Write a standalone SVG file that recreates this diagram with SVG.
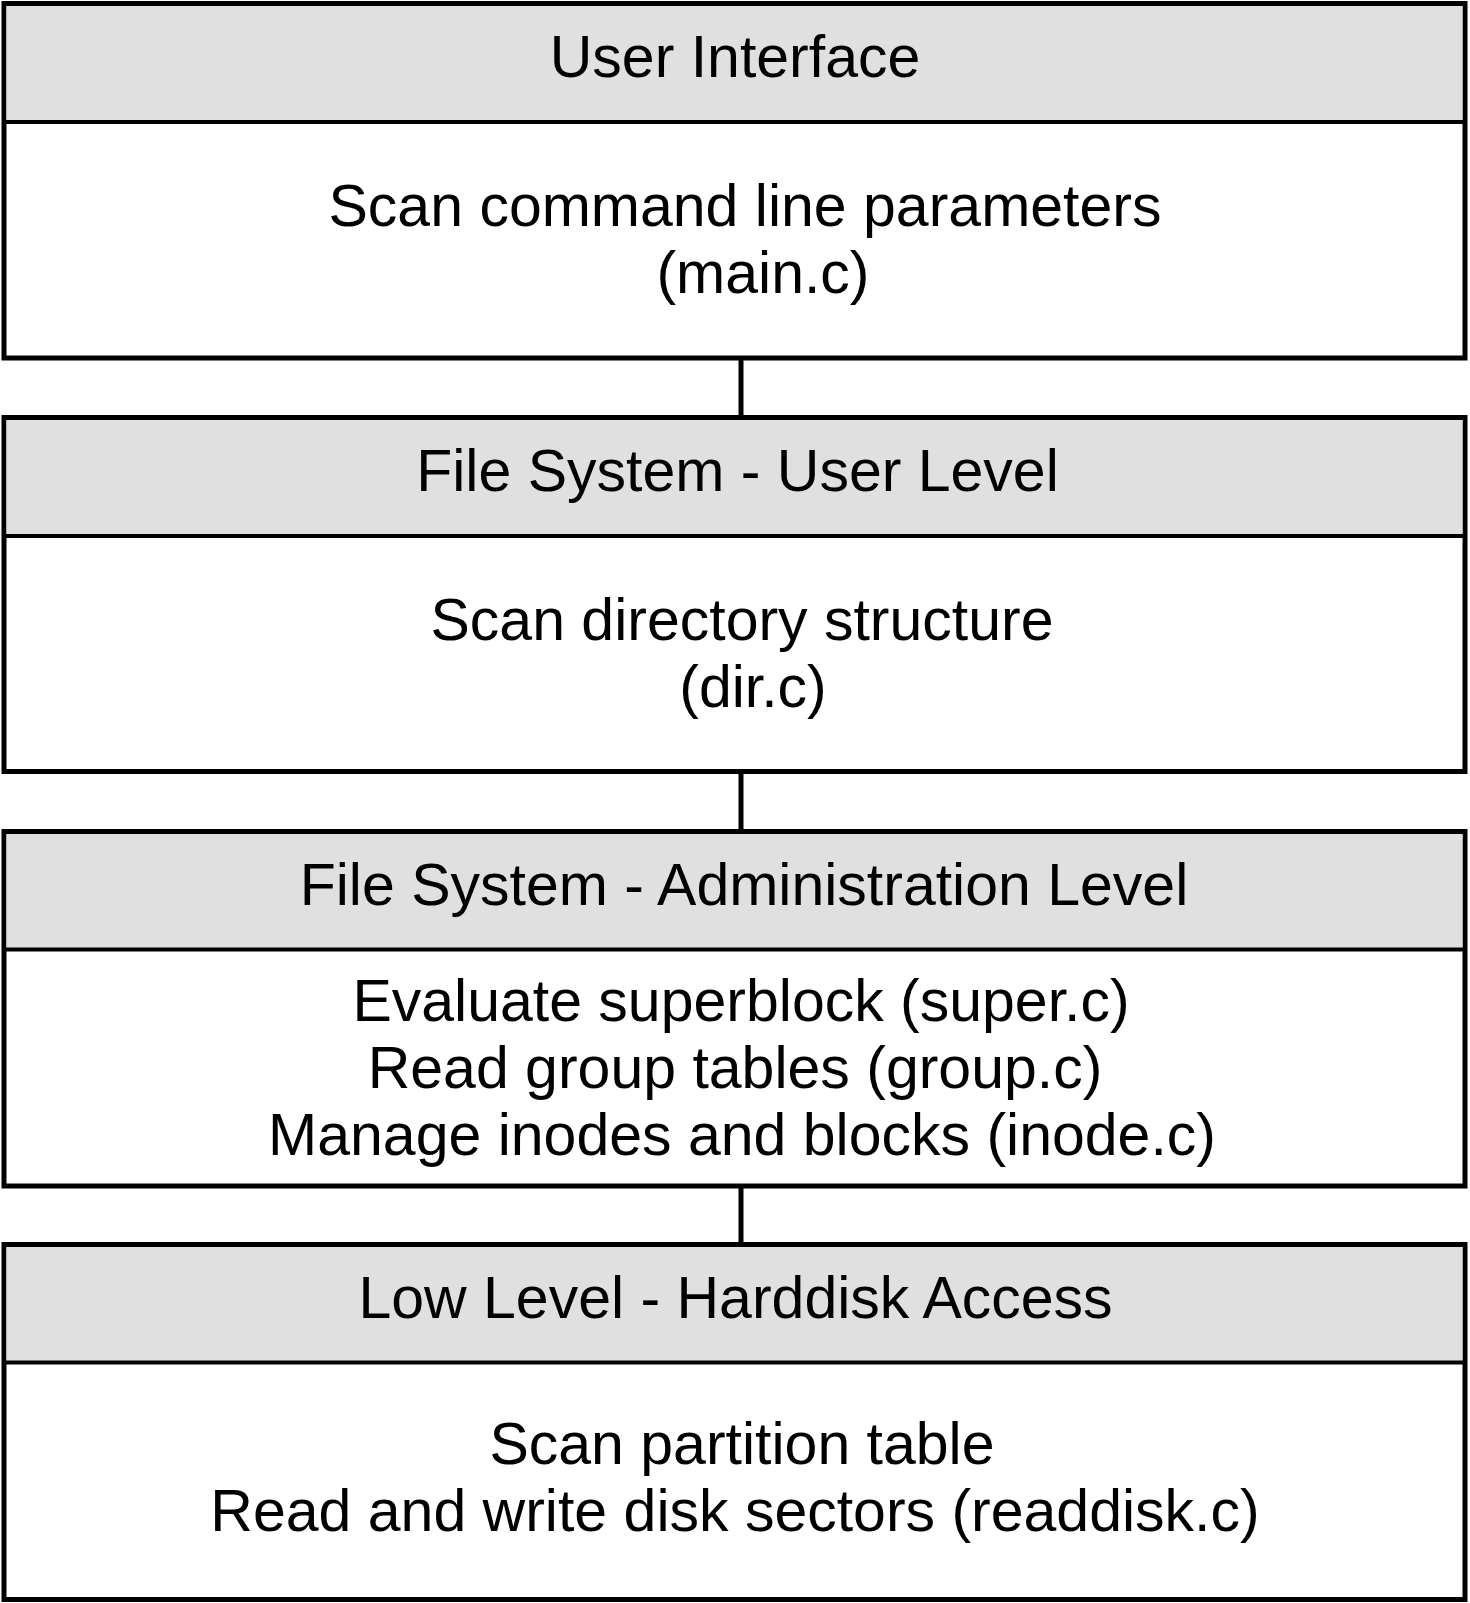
<svg xmlns="http://www.w3.org/2000/svg" width="1470" height="1603" viewBox="0 0 1470 1603">
<style>
.box{fill:#ffffff;stroke:#000000;stroke-width:5}
.hdr{fill:#e0e0e0;stroke:none}
.sep{stroke:#000000;stroke-width:4}
.conn{stroke:#000000;stroke-width:5;fill:none}
text{font-family:"Liberation Sans",Arial,sans-serif;font-size:59px;fill:#000000;text-anchor:middle}
</style>
<rect x="0" y="0" width="1470" height="1603" fill="#ffffff"/>
<g id="connectors">
<line class="conn" x1="741" y1="358" x2="741" y2="417.5"/>
<line class="conn" x1="741" y1="771.5" x2="741" y2="831.5"/>
<line class="conn" x1="741" y1="1186" x2="741" y2="1244.5"/>
</g>
<g id="user-interface">
<rect class="box" x="4" y="3.5" width="1461" height="354.5"/>
<rect class="hdr" x="6.5" y="6" width="1456" height="114"/>
<line class="sep" x1="4" y1="122" x2="1465" y2="122"/>
<text x="735" y="77">User Interface</text>
<text x="745" y="226">Scan command line parameters</text>
<text x="763" y="293">(main.c)</text>
</g>
<g id="fs-user-level">
<rect class="box" x="4" y="417.5" width="1461" height="354"/>
<rect class="hdr" x="6.5" y="420" width="1456" height="114"/>
<line class="sep" x1="4" y1="536" x2="1465" y2="536"/>
<text x="737.5" y="491">File System - User Level</text>
<text x="742" y="640">Scan directory structure</text>
<text x="753" y="707">(dir.c)</text>
</g>
<g id="fs-admin-level">
<rect class="box" x="4" y="831.5" width="1461" height="354.5"/>
<rect class="hdr" x="6.5" y="834" width="1456" height="114"/>
<line class="sep" x1="4" y1="949.5" x2="1465" y2="949.5"/>
<text x="744" y="905">File System - Administration Level</text>
<text x="741" y="1020.5">Evaluate superblock (super.c)</text>
<text x="735" y="1087.5">Read group tables (group.c)</text>
<text x="742" y="1154.5">Manage inodes and blocks (inode.c)</text>
</g>
<g id="low-level">
<rect class="box" x="4" y="1244.5" width="1461" height="355"/>
<rect class="hdr" x="6.5" y="1247" width="1456" height="114"/>
<line class="sep" x1="4" y1="1362.5" x2="1465" y2="1362.5"/>
<text x="735.5" y="1318">Low Level - Harddisk Access</text>
<text x="742" y="1464">Scan partition table</text>
<text x="735" y="1531">Read and write disk sectors (readdisk.c)</text>
</g>
</svg>
